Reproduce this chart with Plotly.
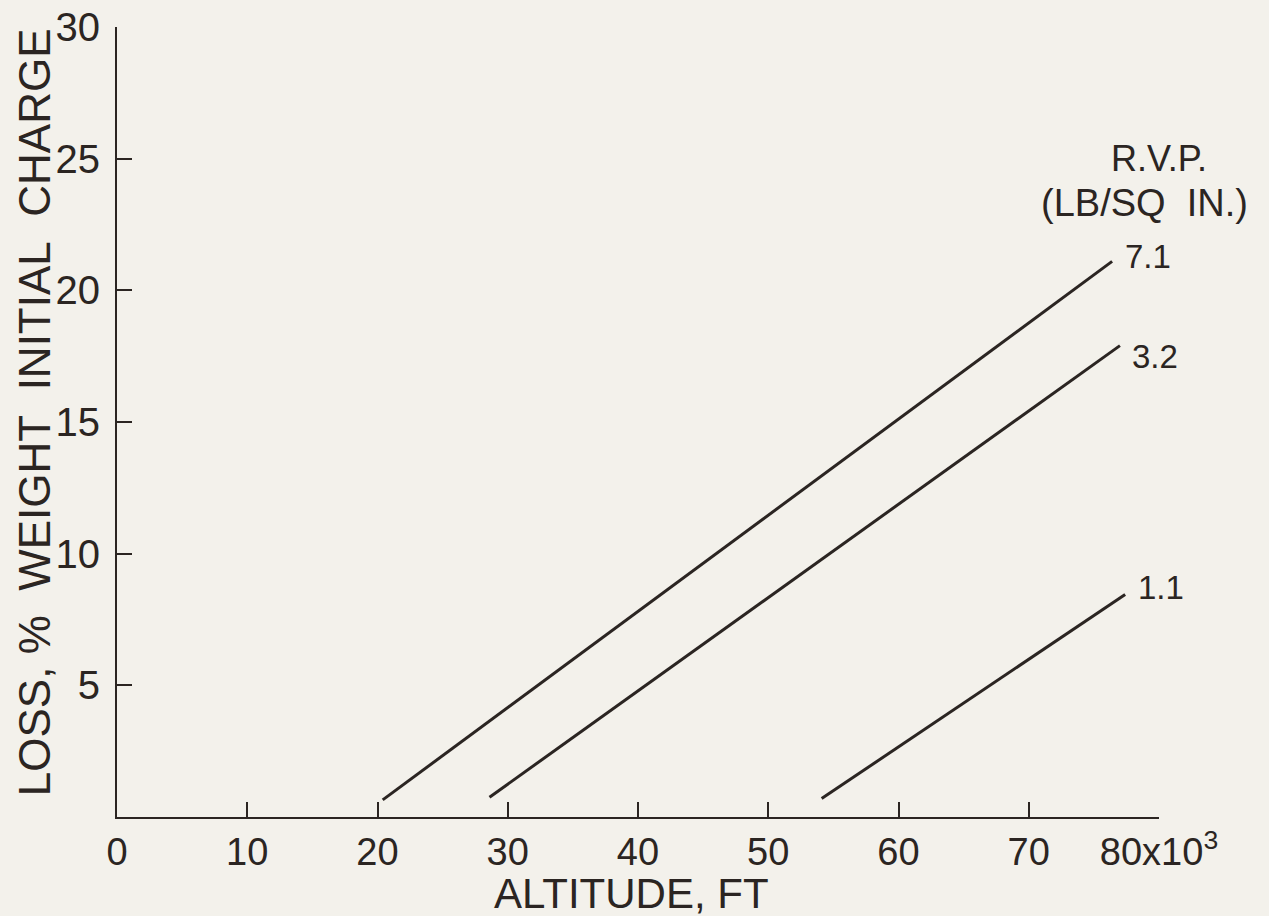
import plotly.graph_objects as go

# Reid vapor pressure (lb/sq in.) for each curve
rvp = ["7.1", "3.2", "1.1"]
# altitude (thousands of ft) at the start and end of each curve
alt_71 = [20.4, 76.4]
loss_71 = [0.65, 21.1]
alt_32 = [28.6, 77.0]
loss_32 = [0.75, 17.9]
alt_11 = [54.1, 77.4]
loss_11 = [0.7, 8.45]

x_ticks = [0, 10, 20, 30, 40, 50, 60, 70, 80]
x_ticktext = ["0", "10", "20", "30", "40", "50", "60", "70", "80x10<sup>3</sup>"]
y_ticks = [5, 10, 15, 20, 25, 30]

ink = "#2b2522"
paper = "#f3f1eb"
font_family = "Liberation Sans, Arial, sans-serif"

fig = go.Figure()
for xs, ys in [(alt_71, loss_71), (alt_32, loss_32), (alt_11, loss_11)]:
    fig.add_trace(go.Scatter(x=xs, y=ys, mode="lines",
                             line=dict(color=ink, width=3), showlegend=False,
                             hoverinfo="skip"))

# curve labels
label_pos = [(alt_71[1] + 0.8, loss_71[1] + 0.2),
             (alt_32[1] + 0.8, loss_32[1] - 0.4),
             (alt_11[1] + 0.8, loss_11[1] + 0.25)]
for txt, (lx, ly) in zip(rvp, label_pos):
    fig.add_annotation(x=lx, y=ly, text=txt, showarrow=False, xanchor="left",
                       yanchor="middle", font=dict(size=33, color=ink, family=font_family))

fig.add_annotation(x=80.0, y=25.0, text="R.V.P.", showarrow=False, xanchor="center",
                   yanchor="middle", font=dict(size=36, color=ink, family=font_family))
fig.add_annotation(x=78.9, y=23.3, text="(LB/SQ\u00a0\u00a0IN.)", showarrow=False,
                   xanchor="center", yanchor="middle",
                   font=dict(size=38, color=ink, family=font_family))

# y-axis title
fig.add_annotation(xref="paper", yref="paper", x=-0.079, y=0.512,
                   text="LOSS,\u00a0%\u00a0\u00a0WEIGHT\u00a0\u00a0INITIAL\u00a0\u00a0CHARGE",
                   textangle=-90, showarrow=False, xanchor="center", yanchor="middle",
                   font=dict(size=44, color=ink, family=font_family))

# x-axis title
fig.add_annotation(xref="paper", yref="paper", x=0.494, y=-0.097,
                   text="ALTITUDE,\u00a0FT", showarrow=False, xanchor="center",
                   yanchor="middle", font=dict(size=42, color=ink, family=font_family))

fig.update_layout(
    width=1269, height=916,
    paper_bgcolor=paper, plot_bgcolor=paper,
    margin=dict(l=117, r=110, t=27, b=99, autoexpand=False),
    font=dict(family=font_family, color=ink),
    xaxis=dict(range=[0, 80], tickvals=x_ticks, ticktext=x_ticktext, automargin=False,
               showgrid=False, zeroline=False, showline=True, linecolor=ink,
               linewidth=2, ticks="inside", ticklen=15, tickwidth=2, tickcolor=ink,
               ticklabelstandoff=0,
               tickfont=dict(size=38, color=ink, family=font_family)),
    yaxis=dict(range=[0, 30], tickvals=y_ticks, showgrid=False, zeroline=False,
               automargin=False,
               showline=True, linecolor=ink, linewidth=2, ticks="inside", ticklen=15,
               tickwidth=2, tickcolor=ink, ticklabelstandoff=7,
               tickfont=dict(size=40, color=ink, family=font_family)),
)

fig.write_html("out.html", config={"displayModeBar": False},
               post_script="document.body.style.margin='0px';"
                           "document.body.style.background='" + paper + "';")
